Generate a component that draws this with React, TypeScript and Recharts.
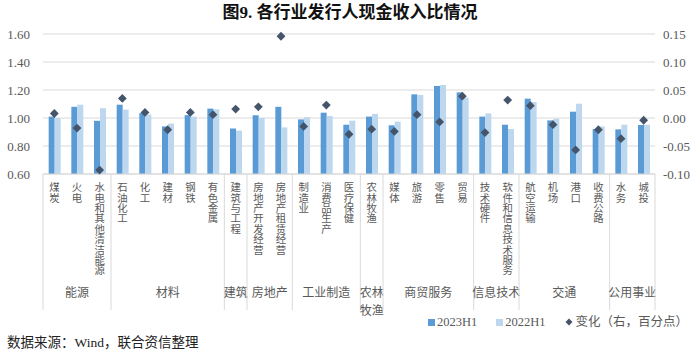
import React from 'react';
import { ComposedChart, Bar, Scatter, XAxis, YAxis, CartesianGrid } from 'recharts';

const categories = ['煤炭', '火电', '水电和其他清洁能源', '石油化工', '化工', '建材', '钢铁', '有色金属', '建筑与工程', '房地产开发经营', '房地产租赁经营', '制造业', '消费品生产', '医疗保健', '农林牧渔', '媒体', '旅游', '零售', '贸易', '技术硬件', '软件和信息技术服务', '航空运输', '机场', '港口', '收费公路', '水务', '城投'];
const values2023 = [1.01, 1.08, 0.98, 1.095, 1.035, 0.94, 1.02, 1.067, 0.925, 1.02, 1.08, 0.99, 1.038, 0.952, 1.01, 0.948, 1.169, 1.229, 1.183, 1.01, 0.952, 1.138, 0.983, 1.045, 0.921, 0.919, 0.95];
const values2022 = [1.0, 1.095, 1.07, 1.06, 1.025, 0.96, 1.01, 1.062, 0.91, 1.0, 0.933, 1.005, 1.014, 0.981, 1.029, 0.974, 1.164, 1.236, 1.145, 1.033, 0.921, 1.114, 0.995, 1.102, 0.94, 0.952, 0.952];
const changes = [0.008, -0.018, -0.093, 0.035, 0.01, -0.021, 0.01, 0.006, 0.016, 0.02, 0.146, -0.015, 0.023, -0.029, -0.02, -0.024, 0.006, -0.007, 0.039, -0.026, 0.032, 0.022, -0.012, -0.057, -0.021, -0.037, -0.004];
const groupNames = ['能源', '材料', '建筑', '房地产', '工业制造', '农林\n牧渔', '商贸服务', '信息技术', '交通', '公用事业'];
const groupSizes = [3, 5, 1, 2, 3, 1, 4, 2, 4, 2];
const leftTicks = [0.6, 0.8, 1.0, 1.2, 1.4, 1.6];
const rightTicks = [-0.1, -0.05, 0, 0.05, 0.1, 0.15];

const data = categories.map((name, i) => ({ name, v2023: values2023[i], v2022: values2022[i], chg: changes[i] }));

const groupStart: Record<number, number> = {};
{
  let idx = 0;
  groupSizes.forEach((n, g) => {
    groupStart[idx] = g;
    idx += n;
  });
}

const SERIF = "'Liberation Serif', 'Times New Roman', 'Noto Sans CJK SC', serif";
const CJK = "'Noto Sans CJK SC', sans-serif";
const GRID = '#D9D9D9';
const TEXT = '#595959';

const CategoryTick = (props: any) => {
  const { x, y, payload } = props;
  const index = payload.index;
  const half = payload.offset || 11.33;
  const els: any[] = [];
  els.push(
    <text key="lbl" x={x} y={y + 8} fontSize={10.4} fill={TEXT} fontFamily={CJK} style={{ writingMode: 'vertical-rl' } as any}>
      {String(payload.value)}
    </text>
  );
  if (groupStart[index] !== undefined) {
    const g = groupStart[index];
    const n = groupSizes[g];
    const gx = x + (n - 1) * half;
    els.push(<line key="sep" x1={x - half} x2={x - half} y1={y} y2={y + 136} stroke={GRID} strokeWidth={1} />);
    const lines = groupNames[g].split('\n');
    lines.forEach((ln, li) => {
      els.push(
        <text key={'g' + li} x={gx} y={y + 123 + li * 17.6} textAnchor="middle" fontSize={12} fill={TEXT} fontFamily={CJK}>
          {ln}
        </text>
      );
    });
  }
  if (index === categories.length - 1) {
    els.push(<line key="end" x1={x + half} x2={x + half} y1={y} y2={y + 136} stroke={GRID} strokeWidth={1} />);
  }
  return <g>{els}</g>;
};

const Diamond = (props: any) => {
  const { cx, cy } = props;
  if (cx == null || cy == null) return null;
  const r = 4.4;
  return <polygon points={`${cx},${cy - r} ${cx + r},${cy} ${cx},${cy + r} ${cx - r},${cy}`} fill="#44546A" />;
};

export default function App() {
  return (
    <div style={{ position: 'absolute', left: 0, top: 0, width: 700, height: 353, background: '#fff' }}>
      <div style={{ position: 'absolute', left: 0, top: 2, width: 700, textAlign: 'center', fontFamily: SERIF, fontWeight: 'bold', fontSize: 17, color: '#111', lineHeight: '22px' }}>
        图9. 各行业发行人现金收入比情况
      </div>
      <ComposedChart width={700} height={353} data={data} margin={{ top: 34, right: 0, left: 0, bottom: 0 }} barCategoryGap="25%" barGap={0}>
        <CartesianGrid vertical={false} stroke={GRID} yAxisId="left" />
        <XAxis dataKey="name" height={179} interval={0} tickLine={false} tickSize={0} tickMargin={0} axisLine={{ stroke: GRID }} tick={<CategoryTick />} />
        <YAxis yAxisId="left" width={43} domain={[0.6, 1.6]} ticks={leftTicks} tickFormatter={(v: number) => v.toFixed(2)} axisLine={false} tickLine={false} tickMargin={7} tick={{ fontSize: 13, fill: TEXT, fontFamily: SERIF }} />
        <YAxis yAxisId="right" orientation="right" width={45} domain={[-0.1, 0.15]} ticks={rightTicks} tickFormatter={(v: number) => v.toFixed(2)} axisLine={false} tickLine={false} tick={{ fontSize: 13, fill: TEXT, fontFamily: SERIF }} />
        <Bar yAxisId="left" dataKey="v2023" fill="#5B9BD5" isAnimationActive={false} />
        <Bar yAxisId="left" dataKey="v2022" fill="#BDD7EE" isAnimationActive={false} />
        <Scatter yAxisId="right" dataKey="chg" shape={<Diamond />} isAnimationActive={false} />
      </ComposedChart>
      <div style={{ position: 'absolute', left: 428, top: 314, display: 'flex', alignItems: 'center', fontFamily: SERIF, fontSize: 12.5, color: TEXT, whiteSpace: 'nowrap', lineHeight: '16px' }}>
        <span style={{ display: 'inline-block', width: 7, height: 7, background: '#5B9BD5', marginRight: 2 }} />
        <span style={{ marginRight: 19 }}>2023H1</span>
        <span style={{ display: 'inline-block', width: 7, height: 7, background: '#BDD7EE', marginRight: 2 }} />
        <span style={{ marginRight: 19 }}>2022H1</span>
        <svg width={8} height={8} style={{ marginRight: 3 }}>
          <polygon points="4,0.5 7.5,4 4,7.5 0.5,4" fill="#44546A" />
        </svg>
        <span>变化（右，百分点）</span>
      </div>
      <div style={{ position: 'absolute', left: 7, top: 334, fontFamily: SERIF, fontSize: 13.5, color: '#222', whiteSpace: 'nowrap', lineHeight: '18px' }}>
        数据来源：Wind，联合资信整理
      </div>
    </div>
  );
}
